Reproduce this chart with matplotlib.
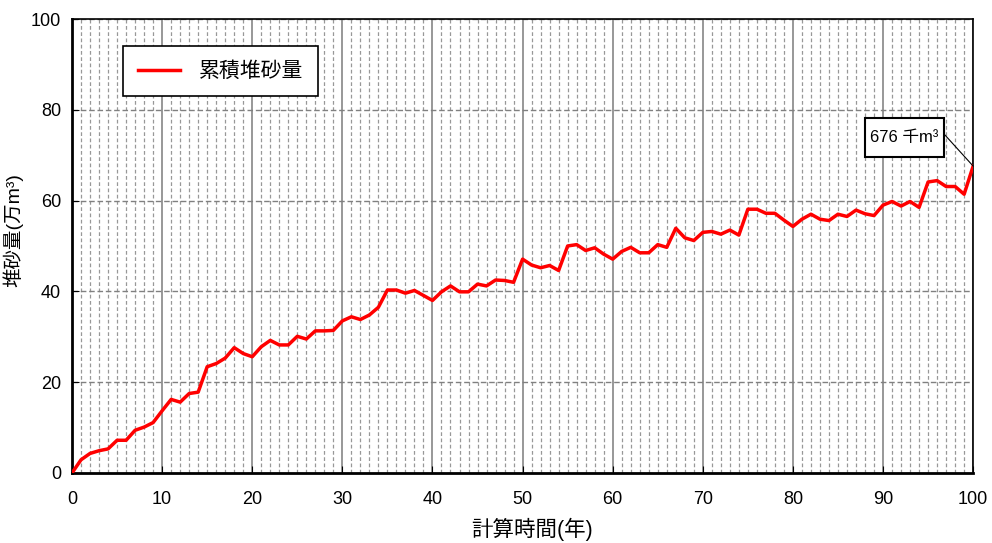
import matplotlib
matplotlib.use('Agg')
import matplotlib.pyplot as plt
from matplotlib.patches import Rectangle
import numpy as np

plt.rcParams['font.family'] = ['Liberation Sans', 'Noto Sans CJK JP', 'DejaVu Sans']

# 計算時間(年) と 累積堆砂量(万m3)
years = np.arange(0, 101)
volume = [0.0, 2.9, 4.3, 4.9, 5.3, 7.2, 7.2, 9.4, 10.1, 11.1,
          13.7, 16.2, 15.6, 17.5, 17.8, 23.4, 24.1, 25.3, 27.6, 26.3,
          25.6, 27.8, 29.2, 28.2, 28.2, 30.1, 29.5, 31.3, 31.3, 31.4,
          33.5, 34.4, 33.8, 34.8, 36.5, 40.3, 40.3, 39.6, 40.2, 39.1,
          38.0, 39.9, 41.2, 39.9, 39.9, 41.6, 41.2, 42.5, 42.4, 42.0,
          47.1, 45.8, 45.2, 45.7, 44.6, 50.0, 50.3, 49.0, 49.6, 48.2,
          47.1, 48.8, 49.7, 48.5, 48.5, 50.3, 49.7, 53.9, 51.8, 51.2,
          53.0, 53.2, 52.6, 53.5, 52.4, 58.1, 58.1, 57.2, 57.2, 55.7,
          54.3, 55.9, 57.0, 55.9, 55.6, 57.0, 56.5, 57.9, 57.1, 56.7,
          59.0, 59.8, 58.8, 59.8, 58.5, 64.1, 64.4, 63.1, 63.1, 61.4,
          67.6]
last_label = '676 千m³'

fig = plt.figure(figsize=(9.92, 5.43), dpi=100)
ax = fig.add_axes([0.0726, 0.129, 0.9084, 0.836])

ax.plot(years, volume, color='red', linewidth=2.5, label='累積堆砂量', zorder=3)

ax.set_xlim(0, 100)
ax.set_ylim(0, 100)
ax.set_xticks(np.arange(0, 101, 10))
ax.set_xticks(np.arange(0, 101, 1), minor=True)
ax.set_yticks(np.arange(0, 101, 20))

# グリッド
ax.grid(True, which='major', axis='x', color='#909090', linestyle='-', linewidth=1.3)
ax.grid(True, which='minor', axis='x', color='#989898', linestyle=(0, (3, 2)), linewidth=0.9)
ax.grid(True, which='major', axis='y', color='#808080', linestyle=(0, (4, 2)), linewidth=1.0)
ax.set_axisbelow(True)

ax.tick_params(axis='both', which='major', direction='in', length=5, labelsize=13, colors='black')
ax.tick_params(axis='x', which='minor', length=0)
ax.tick_params(axis='x', pad=13)
ax.tick_params(axis='y', pad=8)

for s in ['left', 'bottom']:
    ax.spines[s].set_linewidth(2.0)
for s in ['top', 'right']:
    ax.spines[s].set_linewidth(1.2)

ax.set_xlabel('計算時間(年)', fontsize=15.5, labelpad=7)
ax.xaxis.label.set_x(0.51)
ax.set_ylabel('堆砂量(万m³)', fontsize=14, labelpad=5)
ax.yaxis.label.set_y(0.535)

leg = ax.legend(loc='upper left', bbox_to_anchor=(0.057, 0.94), fontsize=15,
                frameon=True, fancybox=False, edgecolor='black',
                handlelength=2.0, borderpad=0.72, handletextpad=0.9,
                borderaxespad=0)
leg.get_frame().set_linewidth(1.2)
leg.get_frame().set_alpha(1)

# 最終値のラベル
box = Rectangle((0.880, 0.696), 0.088, 0.086, transform=ax.transAxes,
                facecolor='white', edgecolor='black', linewidth=1.5, zorder=5)
ax.add_patch(box)
ax.text(0.924, 0.739, last_label, transform=ax.transAxes, ha='center', va='center',
        fontsize=12, zorder=6)
ax.annotate('', xy=(years[-1], volume[-1]), xytext=(0.968, 0.746),
            textcoords='axes fraction',
            arrowprops=dict(arrowstyle='-', color='black', lw=0.8,
                            shrinkA=0, shrinkB=0),
            zorder=5)

plt.savefig('out.png', dpi=100)
